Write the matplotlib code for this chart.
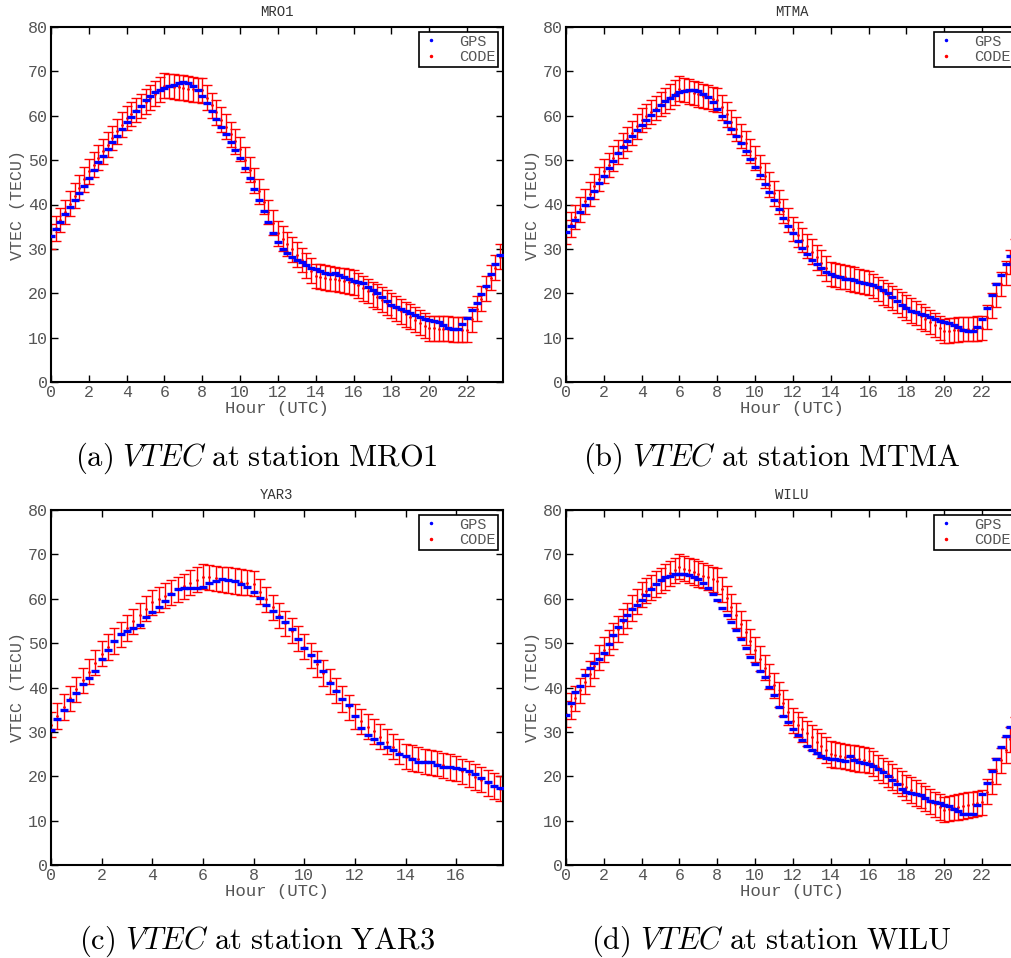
import numpy as np
import matplotlib
matplotlib.use('Agg')
import matplotlib.pyplot as plt
from matplotlib.lines import Line2D

plt.rcParams['mathtext.fontset'] = 'cm'

# epochs (hours UTC), one every 15 min
hours_day = np.arange(0, 24, 0.25)
hours_yar3 = np.arange(0, 18, 0.25)

# MRO1
gps_mro1 = [33.0, 34.5, 36.0, 37.8, 39.5, 41.0, 42.5, 44.2, 46.0, 47.8, 49.5, 51.0,
            52.5, 54.0, 55.5, 57.0, 58.5, 59.8, 61.0, 62.3, 63.5, 64.5, 65.3, 65.8,
            66.2, 66.6, 67.0, 67.3, 67.5, 67.3, 66.8, 65.8, 64.5, 62.8, 61.0, 59.3,
            57.5, 55.8, 54.0, 52.3, 50.5, 48.3, 46.0, 43.5, 41.0, 38.5, 36.0, 33.5,
            31.5, 30.0, 29.0, 28.2, 27.6, 27.0, 26.4, 25.8, 25.4, 25.0, 24.6, 24.4,
            24.6, 24.2, 23.6, 23.1, 22.8, 22.5, 22.2, 21.4, 20.8, 20.0, 19.2, 18.2,
            17.4, 16.9, 16.4, 15.9, 15.5, 15.1, 14.7, 14.3, 14.0, 13.8, 13.5, 12.9,
            12.2, 11.9, 12.0, 13.0, 14.4, 16.2, 17.9, 19.8, 21.6, 24.4, 26.5, 28.6]
code_mro1 = [32.8, 34.6, 36.5, 38.3, 40.2, 42.0, 43.8, 45.7, 47.5, 49.0, 50.5, 52.0,
             53.5, 55.0, 56.5, 58.0, 59.5, 60.4, 61.3, 62.2, 63.2, 64.1, 65.0, 65.9,
             66.8, 66.7, 66.5, 66.4, 66.3, 66.1, 66.0, 65.8, 65.7, 64.1, 62.4, 60.8,
             59.1, 57.5, 55.8, 54.2, 52.5, 50.1, 47.8, 45.4, 43.0, 40.6, 38.3, 35.9,
             33.5, 32.3, 31.1, 29.9, 28.7, 27.5, 26.3, 25.1, 23.9, 23.7, 23.5, 23.3,
             23.2, 23.0, 22.8, 22.6, 22.4, 21.8, 21.1, 20.5, 19.8, 19.2, 18.5, 17.9,
             17.2, 16.6, 15.9, 15.3, 14.7, 14.0, 13.4, 12.7, 12.1, 12.1, 12.0, 12.0,
             12.0, 11.9, 11.9, 11.8, 11.8, 14.1, 16.5, 18.8, 21.1, 23.5, 25.8, 28.2]

# MTMA
gps_mtma = [33.8, 35.2, 36.6, 38.3, 40.0, 41.5, 43.0, 44.8, 46.5, 48.2, 49.8, 51.5,
            53.0, 54.3, 55.5, 56.8, 58.0, 59.0, 60.2, 61.4, 62.5, 63.3, 64.0, 64.7,
            65.3, 65.6, 65.8, 65.8, 65.5, 65.0, 64.2, 63.0, 61.5, 60.0, 58.5, 57.0,
            55.5, 53.8, 52.0, 50.3, 48.5, 46.6, 44.7, 42.8, 41.0, 39.0, 37.0, 35.2,
            33.5, 31.8, 30.3, 28.9, 27.6, 26.5, 25.6, 24.9, 24.4, 23.9, 23.6, 23.3,
            23.1, 22.9, 22.6, 22.3, 22.1, 21.9, 21.5, 20.8, 20.0, 19.2, 18.3, 17.4,
            16.6, 16.1, 15.7, 15.4, 15.1, 14.7, 14.2, 13.8, 13.5, 13.2, 12.9, 12.5,
            11.8, 11.4, 11.4, 12.3, 14.2, 16.6, 19.5, 22.0, 24.2, 26.5, 28.3, 30.0]
code_mtma = [33.8, 35.5, 37.2, 38.9, 40.7, 42.4, 44.1, 45.8, 47.5, 48.9, 50.4, 51.8,
             53.3, 54.7, 56.1, 57.6, 59.0, 59.9, 60.8, 61.7, 62.6, 63.4, 64.3, 65.2,
             66.1, 65.8, 65.5, 65.1, 64.8, 64.5, 64.2, 63.8, 63.5, 61.9, 60.3, 58.6,
             57.0, 55.4, 53.8, 52.1, 50.5, 48.5, 46.5, 44.5, 42.5, 40.5, 38.5, 36.5,
             34.5, 33.2, 32.0, 30.7, 29.4, 28.1, 26.9, 25.6, 24.3, 24.1, 23.8, 23.6,
             23.3, 23.1, 22.8, 22.6, 22.3, 21.6, 20.9, 20.2, 19.6, 18.9, 18.2, 17.5,
             16.8, 16.1, 15.5, 14.8, 14.2, 13.5, 12.8, 12.2, 11.5, 11.6, 11.7, 11.8,
             11.9, 11.9, 12.0, 12.1, 12.2, 14.7, 17.2, 19.6, 22.1, 24.6, 27.1, 29.5]

# YAR3
gps_yar3 = [30.5, 32.8, 35.0, 37.2, 38.7, 40.8, 42.2, 43.8, 46.5, 48.5, 50.5, 52.0,
            52.8, 53.4, 54.0, 55.8, 57.0, 58.2, 59.6, 61.0, 62.1, 62.4, 62.4, 62.5,
            62.7, 63.6, 64.1, 64.4, 64.3, 64.0, 63.4, 62.7, 61.6, 60.2, 58.7, 57.3,
            56.0, 54.8, 53.2, 51.0, 49.0, 47.3, 46.0, 43.8, 41.0, 39.1, 37.5, 36.0,
            33.5, 30.8, 29.2, 28.3, 27.5, 26.7, 25.9, 25.1, 24.5, 23.9, 23.3, 23.1,
            23.1, 22.5, 22.1, 22.0, 21.8, 21.6, 21.1, 20.4, 19.5, 18.7, 17.9, 17.4]
code_yar3 = [31.6, 33.6, 35.6, 37.6, 39.6, 41.6, 43.6, 45.6, 47.6, 49.1, 50.5, 52.0,
             53.4, 54.9, 56.3, 57.8, 59.2, 59.9, 60.7, 61.4, 62.1, 62.8, 63.6, 64.3,
             65.0, 64.8, 64.6, 64.4, 64.2, 64.0, 63.8, 63.6, 63.4, 61.6, 59.9, 58.1,
             56.3, 54.5, 52.8, 51.0, 49.2, 47.2, 45.3, 43.3, 41.4, 39.4, 37.4, 35.5,
             33.5, 32.4, 31.2, 30.1, 28.9, 27.8, 26.7, 25.5, 24.4, 24.1, 23.8, 23.4,
             23.1, 22.8, 22.5, 22.1, 21.8, 21.1, 20.5, 19.8, 19.2, 18.5, 17.8, 17.2]

# WILU
gps_wilu = [33.8, 36.5, 39.0, 40.4, 42.8, 44.5, 45.5, 46.5, 47.8, 49.8, 51.8, 53.6,
            55.2, 56.4, 57.6, 58.7, 59.7, 60.9, 62.2, 63.3, 64.2, 64.8, 65.2, 65.5,
            65.6, 65.5, 65.3, 65.0, 64.5, 63.6, 62.4, 61.1, 59.7, 58.0, 56.3, 54.7,
            53.0, 51.0, 48.8, 46.8, 45.2, 43.8, 42.3, 40.2, 38.2, 35.5, 33.6, 32.3,
            30.6, 29.3, 28.1, 26.9, 26.0, 25.3, 24.6, 24.2, 24.0, 23.8, 23.6, 23.4,
            24.6, 23.6, 23.3, 23.0, 22.7, 22.4, 21.7, 20.9, 20.0, 19.2, 18.2, 17.2,
            16.5, 16.3, 16.0, 15.7, 15.1, 14.5, 14.2, 13.9, 13.6, 13.3, 12.7, 12.1,
            11.6, 11.5, 11.5, 13.5, 16.1, 18.5, 21.1, 23.8, 26.5, 29.1, 31.0, 32.5]
code_wilu = [34.0, 35.8, 37.6, 39.4, 41.3, 43.1, 44.9, 46.7, 48.5, 50.1, 51.6, 53.2,
             54.8, 56.3, 57.9, 59.4, 61.0, 61.8, 62.6, 63.3, 64.1, 64.9, 65.7, 66.4,
             67.2, 66.8, 66.4, 66.0, 65.6, 65.2, 64.8, 64.4, 64.0, 62.1, 60.1, 58.2,
             56.3, 54.3, 52.4, 50.4, 48.5, 46.5, 44.5, 42.5, 40.5, 38.5, 36.5, 34.5,
             32.5, 31.6, 30.6, 29.7, 28.8, 27.8, 26.9, 25.9, 25.0, 24.8, 24.6, 24.4,
             24.3, 24.1, 23.9, 23.7, 23.5, 22.8, 22.0, 21.3, 20.5, 19.8, 19.0, 18.3,
             17.5, 16.9, 16.2, 15.6, 15.0, 14.3, 13.7, 13.1, 12.5, 12.7, 12.9, 13.1,
             13.3, 13.5, 13.7, 13.9, 14.1, 16.5, 18.8, 21.2, 23.6, 25.9, 28.3, 30.6]

# CODE uncertainty (TECU, half width)
err_mro1 = 2.8
err_mtma = 2.75
err_yar3 = 2.85
err_wilu = 2.85

stations = ['MRO1', 'MTMA', 'YAR3', 'WILU']
letters = ['a', 'b', 'c', 'd']

W, H = 1011, 958
fig = plt.figure(figsize=(W / 100, H / 100), dpi=100)

mono = 'Liberation Mono'
grey = '#555555'

def panel(rect, hours, gps, code, err, name, letter, xmax, xticks):
    ax = fig.add_axes(rect)
    ax.errorbar(hours, code, yerr=err, fmt='.', color='red', ms=2,
                elinewidth=1.0, capsize=3.4, capthick=1.0, zorder=2)
    ax.plot(hours, gps, '_', color='blue', ms=6, mew=2.4, zorder=3)
    ax.set_xlim(0, xmax)
    ax.set_ylim(0, 80)
    ax.set_xticks(xticks)
    ax.set_yticks(range(0, 81, 10))
    ax.tick_params(direction='in', top=True, right=True, length=5, width=1,
                   labelsize=12, labelcolor=grey, pad=2)
    for lab in ax.get_xticklabels() + ax.get_yticklabels():
        lab.set_family(mono)
    for s in ax.spines.values():
        s.set_linewidth(1.5)
    ax.set_title(name, fontsize=10, family=mono, color='#333333', pad=8)
    ax.set_xlabel('Hour (UTC)', fontsize=12.5, family=mono, color=grey, labelpad=1)
    ax.set_ylabel('VTEC (TECU)', fontsize=12, family=mono, color=grey, labelpad=2)
    handles = [Line2D([], [], ls='none', marker='.', ms=3, color='blue'),
               Line2D([], [], ls='none', marker='.', ms=3, color='red')]
    leg = ax.legend(handles, ['GPS', 'CODE'], loc='upper right', fancybox=False,
                    framealpha=1, edgecolor='black', handlelength=1.2,
                    borderpad=0.2, labelspacing=0.1, handletextpad=1.2,
                    borderaxespad=0.3, prop={'family': mono, 'size': 11})
    leg.get_frame().set_linewidth(1.2)
    for t in leg.get_texts():
        t.set_color(grey)
    x0, y0, w, h = rect
    cx = x0 + 0.5 * 452 / W
    fig.text(cx - 0.02, y0 - 0.08,
             r'$\mathrm{(%s)}\ VTEC\ \mathrm{at\ station\ %s}$' % (letter, name),
             ha='center', va='center', fontsize=22)
    return ax

aw = 452 / W
ah = 355 / 958
top_b = (958 - 382) / 958
bot_b = (958 - 865) / 958
lx = 51 / W
rx = 566 / W

panel([lx, top_b, aw, ah], hours_day, gps_mro1, code_mro1, err_mro1,
      stations[0], letters[0], 23.9, range(0, 23, 2))
panel([rx, top_b, aw, ah], hours_day, gps_mtma, code_mtma, err_mtma,
      stations[1], letters[1], 23.9, range(0, 23, 2))
panel([lx, bot_b, aw, ah], hours_yar3, gps_yar3, code_yar3, err_yar3,
      stations[2], letters[2], 17.85, range(0, 17, 2))
panel([rx, bot_b, aw, ah], hours_day, gps_wilu, code_wilu, err_wilu,
      stations[3], letters[3], 23.9, range(0, 23, 2))

fig.savefig('out.png', dpi=100)
